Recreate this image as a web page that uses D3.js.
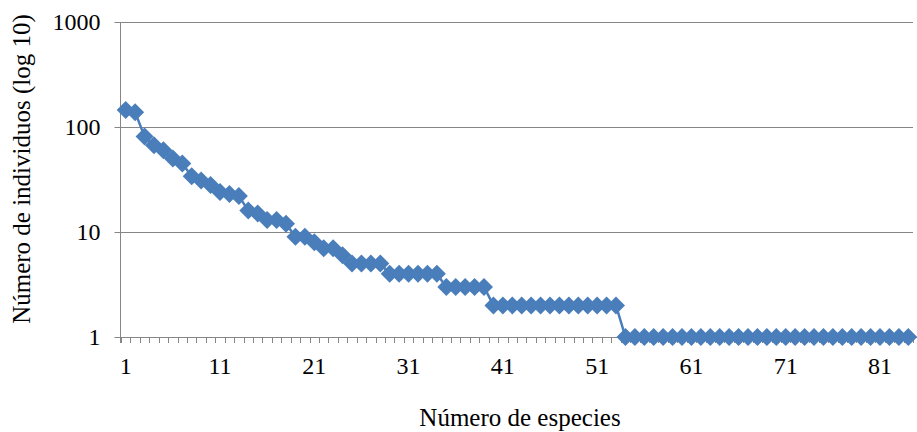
<!DOCTYPE html>
<html>
<head>
<meta charset="utf-8">
<script src="https://cdn.jsdelivr.net/npm/d3@7/dist/d3.min.js"></script>
<style>
  html, body { margin: 0; padding: 0; background: #fff; }
  svg { display: block; }
  text { font-family: "Liberation Serif", "Times New Roman", serif; fill: #000; }
</style>
</head>
<body>
<svg id="chart" width="917" height="432"></svg>
<script>
// ---- data ----
const species = d3.range(1, 85); // species rank 1..84
const individuals = [
  145, 138, 81, 67, 60, 50, 45, 34, 31, 28,
  24, 23, 22, 16, 15, 13, 13, 12, 9, 9,
  8, 7, 7, 6, 5, 5, 5, 5, 4, 4,
  4, 4, 4, 4, 3, 3, 3, 3, 3, 2,
  2, 2, 2, 2, 2, 2, 2, 2, 2, 2,
  2, 2, 2, 1, 1, 1, 1, 1, 1, 1,
  1, 1, 1, 1, 1, 1, 1, 1, 1, 1,
  1, 1, 1, 1, 1, 1, 1, 1, 1, 1,
  1, 1, 1, 1
];
const yTicks = [1, 10, 100, 1000];
const xTickLabels = [1, 11, 21, 31, 41, 51, 61, 71, 81];
const xTitle = "Número de especies";
const yTitle = "Número de individuos (log 10)";

// ---- layout ----
const pLeft = 121, pRight = 913, pTop = 22, pBottom = 337;
const blue = "#4A7EBB", grid = "#868686";
const tickFont = 24, titleFont = 25;

const svg = d3.select("#chart");

const x = d3.scaleBand().domain(species).range([pLeft, pRight]).paddingInner(0).paddingOuter(0);
const y = d3.scaleLog().domain([1, 1000]).range([pBottom, pTop]);
const cx = d => x(d) + x.bandwidth() / 2;

// gridlines
svg.append("g").selectAll("line").data(yTicks.filter(t => t !== 1)).join("line")
  .attr("x1", pLeft).attr("x2", pRight)
  .attr("y1", d => Math.round(y(d)) + 0.5).attr("y2", d => Math.round(y(d)) + 0.5)
  .attr("stroke", grid).attr("stroke-width", 1);

// y axis
const yAxis = d3.axisLeft(y).tickValues(yTicks).tickFormat(d3.format("d")).tickSize(6).tickPadding(14);
const gy = svg.append("g").attr("transform", `translate(${pLeft - 0.5},0)`).call(yAxis);
gy.select(".domain").remove();
gy.selectAll(".tick line").attr("stroke", grid);
gy.selectAll(".tick text").attr("font-size", tickFont).attr("font-family", "Liberation Serif").attr("dy", "0.33em");
svg.append("line").attr("x1", pLeft - 0.5).attr("x2", pLeft - 0.5).attr("y1", pTop).attr("y2", pBottom + 6)
  .attr("stroke", grid);

// x axis: minor ticks at category boundaries
const boundaries = species.map(d => x(d)).concat([pRight]);
svg.append("line").attr("x1", pLeft - 0.5).attr("x2", pRight).attr("y1", pBottom + 0.5).attr("y2", pBottom + 0.5)
  .attr("stroke", grid);
svg.append("g").selectAll("line").data(boundaries).join("line")
  .attr("x1", d => Math.round(d) + 0.5).attr("x2", d => Math.round(d) + 0.5)
  .attr("y1", pBottom).attr("y2", pBottom + 6)
  .attr("stroke", grid);
svg.append("g").selectAll("text").data(xTickLabels).join("text")
  .attr("x", d => cx(d)).attr("y", 374)
  .attr("text-anchor", "middle").attr("font-size", tickFont)
  .text(d => d);

// line
const line = d3.line().x((d, i) => cx(species[i])).y(d => y(d));
svg.append("path").datum(individuals).attr("d", line)
  .attr("fill", "none").attr("stroke", blue).attr("stroke-width", 2.5).attr("stroke-linejoin", "round");

// diamond markers
const r = 9;
svg.append("g").selectAll("path").data(individuals).join("path")
  .attr("transform", (d, i) => `translate(${cx(species[i])},${y(d)})`)
  .attr("d", `M0,${-r}L${r},0L0,${r}L${-r},0Z`)
  .attr("fill", blue);

// titles
svg.append("text").attr("x", 520).attr("y", 426).attr("text-anchor", "middle")
  .attr("font-size", titleFont).text(xTitle);
svg.append("text").attr("transform", "translate(30,169) rotate(-90)").attr("text-anchor", "middle")
  .attr("font-size", titleFont).text(yTitle);
</script>
</body>
</html>
